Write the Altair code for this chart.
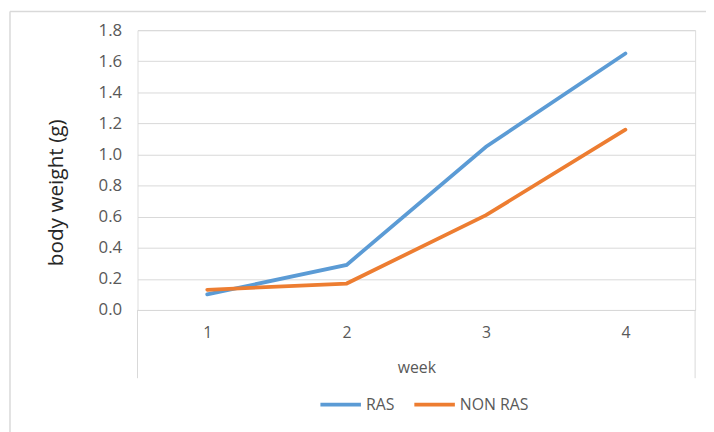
import altair as alt
import pandas as pd

weeks = ["1", "2", "3", "4"]
ras = [0.10, 0.29, 1.05, 1.65]
non_ras = [0.13, 0.17, 0.61, 1.16]
series_names = ["RAS", "NON RAS"]
series_colors = ["#5B9BD5", "#ED7D31"]
y_ticks = [0.0, 0.2, 0.4, 0.6, 0.8, 1.0, 1.2, 1.4, 1.6, 1.8]

rows = []
for name, vals in zip(series_names, [ras, non_ras]):
    for w, v in zip(weeks, vals):
        rows.append({"week": w, "series": name, "value": v})
df = pd.DataFrame(rows)

FONT = "Open Sans"
GRAY = "#595959"
GRID = "#d9d9d9"
W, H = 564, 283

lines = alt.Chart(df).mark_line(strokeWidth=3.8, strokeCap="round").encode(
    x=alt.X(
        "week:O",
        sort=weeks,
        scale=alt.Scale(type="point", padding=0.5),
        axis=alt.Axis(
            title="week",
            labelAngle=0,
            domain=True,
            domainColor=GRID,
            ticks=False,
            grid=False,
            labelColor=GRAY,
            labelFont=FONT,
            labelFontSize=16,
            labelPadding=15,
            titleColor=GRAY,
            titleFont=FONT,
            titleFontSize=16,
            titleFontWeight="normal",
            titleY=58,
            titleBaseline="middle",
        ),
    ),
    y=alt.Y(
        "value:Q",
        scale=alt.Scale(domain=[0, 1.8], nice=False),
        axis=alt.Axis(
            values=y_ticks,
            format=".1f",
            grid=True,
            gridColor=GRID,
            domain=False,
            ticks=False,
            labelColor=GRAY,
            labelFont=FONT,
            labelFontSize=17,
            labelPadding=16,
            title="body weight (g)",
            titleColor="#262626",
            titleFont=FONT,
            titleFontSize=21,
            titleFontWeight="normal",
            titleX=-82,
            titleY=164,
            titleAlign="center",
            titleBaseline="middle",
        ),
    ),
    color=alt.Color(
        "series:N",
        sort=series_names,
        scale=alt.Scale(domain=series_names, range=series_colors),
        legend=alt.Legend(
            title=None,
            orient="none",
            legendX=183,
            legendY=356,
            direction="horizontal",
            symbolType="stroke",
            symbolSize=1681,
            symbolStrokeWidth=3.8,
            labelFont=FONT,
            labelFontSize=16,
            labelColor=GRAY,
            labelOffset=3,
            columnPadding=12,
        ),
    ),
)

deco = pd.DataFrame({"d": [0]})
left_tick = alt.Chart(deco).mark_rule(color=GRID, strokeWidth=1).encode(
    x=alt.value(0), y=alt.value(H), y2=alt.value(H + 69)
)
right_tick = alt.Chart(deco).mark_rule(color=GRID, strokeWidth=1).encode(
    x=alt.value(W), y=alt.value(H), y2=alt.value(H + 69)
)
border_left = alt.Chart(deco).mark_rule(color=GRID, strokeWidth=1.5).encode(
    x=alt.value(-129), y=alt.value(-19), y2=alt.value(H + 141)
)
border_top = alt.Chart(deco).mark_rule(color=GRID, strokeWidth=1.5).encode(
    x=alt.value(-129), x2=alt.value(W + 11), y=alt.value(-19)
)

chart = alt.layer(border_left, border_top, left_tick, right_tick, lines).properties(
    width=W,
    height=H,
    autosize=alt.AutoSizeParams(type="none"),
    padding={"left": 131, "top": 20, "right": 11, "bottom": 121},
).configure_view(stroke=None).configure(background="white")

chart.save("out.html", embed_options={"renderer": "svg", "actions": False})
